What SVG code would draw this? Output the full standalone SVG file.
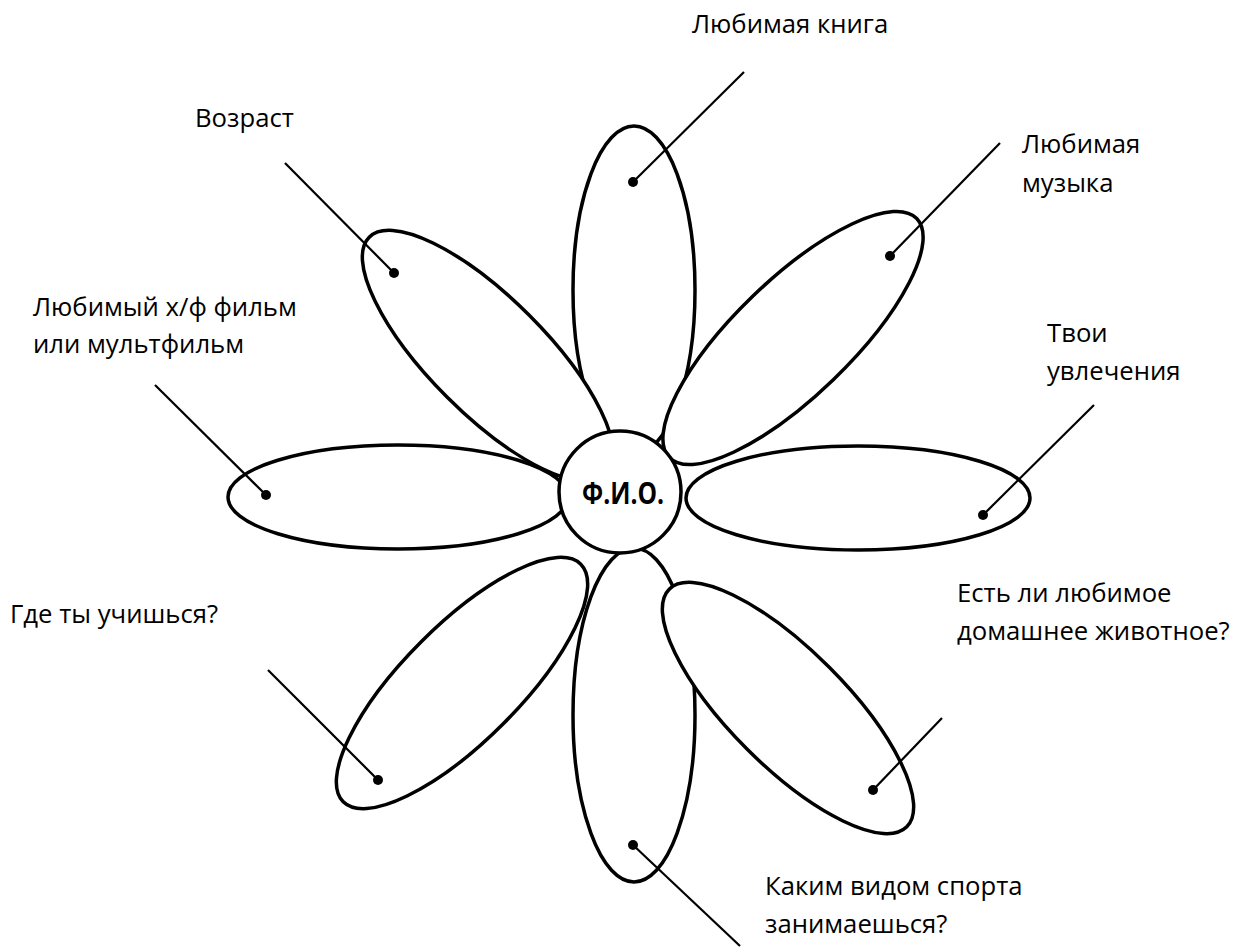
<svg xmlns="http://www.w3.org/2000/svg" width="1234" height="951" viewBox="0 0 1234 951">
<style>
.petal{fill:#fff;stroke:#000;stroke-width:3.5}
.lbl{font-family:"Open Sans","Noto Sans",sans-serif;font-size:25.7px;fill:#000}
.ln{stroke:#000;stroke-width:2.2;fill:none}
.dot{fill:#000}
.core{fill:#fff;stroke:#000;stroke-width:3.5}
.fio{font-family:"Open Sans","Noto Sans",sans-serif;font-size:30px;font-weight:bold;fill:#000}
</style>
<rect width="1234" height="951" fill="#fff"/>
<g id="petals">
<ellipse id="petal-top" class="petal" cx="634" cy="290" rx="61" ry="164"/>
<ellipse id="petal-bottom" class="petal" cx="634" cy="715" rx="61" ry="167"/>
<ellipse id="petal-left" class="petal" cx="398" cy="497" rx="170" ry="52"/>
<ellipse id="petal-right" class="petal" cx="858" cy="498" rx="172" ry="52"/>
<ellipse id="petal-ul" class="petal" cx="0" cy="0" rx="58" ry="168" transform="translate(488,356) rotate(-45)"/>
<ellipse id="petal-ur" class="petal" cx="0" cy="0" rx="58" ry="172" transform="translate(793,338) rotate(46)"/>
<ellipse id="petal-lr" class="petal" cx="0" cy="0" rx="58" ry="168" transform="translate(788,708) rotate(-45)"/>
<ellipse id="petal-ll" class="petal" cx="0" cy="0" rx="58" ry="168" transform="translate(462,683) rotate(45)"/>
</g>
<g id="center">
<circle class="core" cx="620" cy="492" r="61"/>
<text class="fio" x="623" y="504" text-anchor="middle" textLength="82" lengthAdjust="spacingAndGlyphs">Ф.И.О.</text>
</g>
<g id="connectors">
<line class="ln" x1="633" y1="182" x2="744" y2="72"/>
<line class="ln" x1="890" y1="256" x2="1000" y2="143"/>
<line class="ln" x1="983" y1="515" x2="1094" y2="405"/>
<line class="ln" x1="873" y1="790" x2="942" y2="718"/>
<line class="ln" x1="633" y1="845" x2="740" y2="946"/>
<line class="ln" x1="378" y1="780" x2="268" y2="670"/>
<line class="ln" x1="266" y1="495" x2="155" y2="385"/>
<line class="ln" x1="394" y1="273" x2="285" y2="163"/>
<circle class="dot" cx="633" cy="182" r="5"/>
<circle class="dot" cx="890" cy="256" r="5"/>
<circle class="dot" cx="983" cy="515" r="5"/>
<circle class="dot" cx="873" cy="790" r="5"/>
<circle class="dot" cx="633" cy="845" r="5"/>
<circle class="dot" cx="378" cy="780" r="5"/>
<circle class="dot" cx="266" cy="495" r="5"/>
<circle class="dot" cx="394" cy="273" r="5"/>
</g>
<g id="labels">
<text id="t-book" class="lbl" x="692" y="33">Любимая книга</text>
<text id="t-music" class="lbl" x="1022" y="153">Любимая<tspan x="1022" y="192">музыка</tspan></text>
<text id="t-hobby" class="lbl" x="1047" y="342">Твои<tspan x="1047" y="380">увлечения</tspan></text>
<text id="t-pet" class="lbl" x="957" y="602">Есть ли любимое<tspan x="957" y="640">домашнее животное?</tspan></text>
<text id="t-sport" class="lbl" x="765" y="895">Каким видом спорта<tspan x="765" y="933">занимаешься?</tspan></text>
<text id="t-study" class="lbl" x="10" y="623">Где ты учишься?</text>
<text id="t-film" class="lbl" x="33" y="316">Любимый х/ф фильм<tspan x="33" y="353">или мультфильм</tspan></text>
<text id="t-age" class="lbl" x="195" y="127">Возраст</text>
</g>
</svg>
